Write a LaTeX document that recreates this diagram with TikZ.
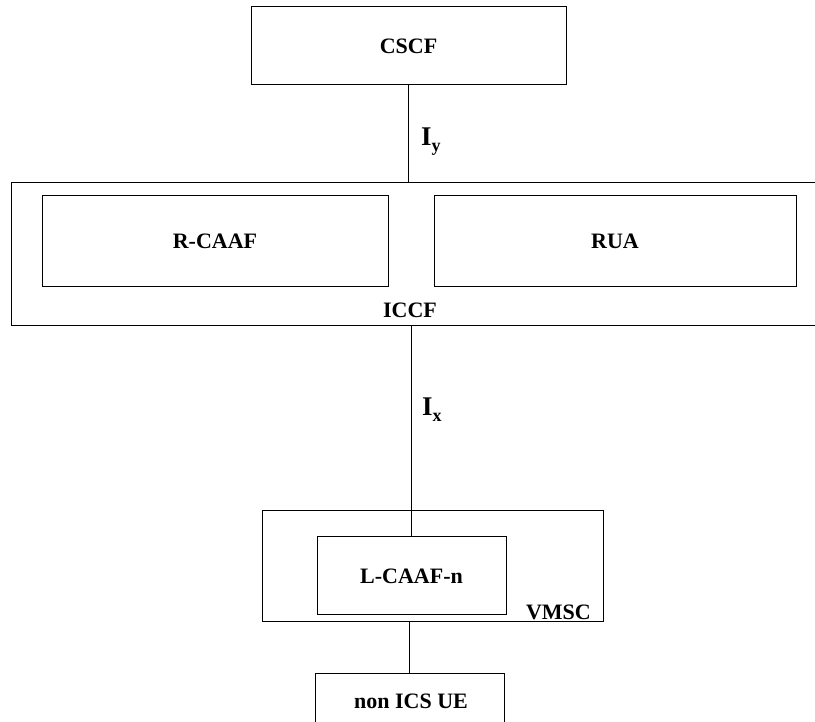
\documentclass[tikz,border=0pt]{standalone}
\usepackage{fontspec}
\setmainfont{Liberation Serif}
\begin{document}
\begin{tikzpicture}[x=1pt,y=-1pt,
  box/.style={draw,line width=1pt,inner sep=0pt},
  lbl/.style={font=\fontsize{22}{25}\selectfont\bfseries,inner sep=0pt},
  wire/.style={line width=1pt}]
\useasboundingbox (0,0) rectangle (815,722);
\clip (0,0) rectangle (815,722);
% boxes
\node[box,minimum width=315pt,minimum height=78pt] (cscf) at (408.5,46) {};
\node[lbl] (cscft) at (408.5,46) {CSCF};
\node[box,minimum width=814pt,minimum height=143pt] (iccf) at (418,254.5) {};
\node[box,minimum width=346pt,minimum height=91pt] (rcaaf) at (215,241.5) {};
\node[lbl] (rcaaft) at (215,241.5) {R-CAAF};
\node[box,minimum width=362pt,minimum height=91pt] (rua) at (615,241.5) {};
\node[lbl] (ruat) at (615,241.5) {RUA};
\node[lbl] (iccft) at (410,310) {ICCF};
\node[box,minimum width=341pt,minimum height=111pt] (vmsc) at (432.5,565.5) {};
\node[box,minimum width=189pt,minimum height=78pt] (lcaaf) at (411.5,575) {};
\node[lbl] (lcaaft) at (411.5,576) {L-CAAF-n};
\node[lbl,anchor=base east] (vmsct) at (591,619) {VMSC};
\node[box,minimum width=189pt,minimum height=80pt] (ue) at (409.5,713) {};
\node[lbl] (uet) at (411,701) {non ICS UE};
% connectors
\draw[wire] (cscf.south) -- (cscf.south |- iccf.north);
\draw[wire] (lcaaf.north |- iccf.south) -- (lcaaf.north);
\draw[wire] (ue.north) -- (ue.north |- vmsc.south);
% interface labels
\node[anchor=west,inner sep=0pt] (iy) at (421,142)
  {\fontsize{27}{29}\selectfont\bfseries I\raisebox{-6pt}{\fontsize{18}{19}\selectfont y}};
\node[anchor=west,inner sep=0pt] (ix) at (422,410)
  {\fontsize{27}{29}\selectfont\bfseries I\raisebox{-6pt}{\fontsize{18}{19}\selectfont x}};
\end{tikzpicture}
\end{document}
